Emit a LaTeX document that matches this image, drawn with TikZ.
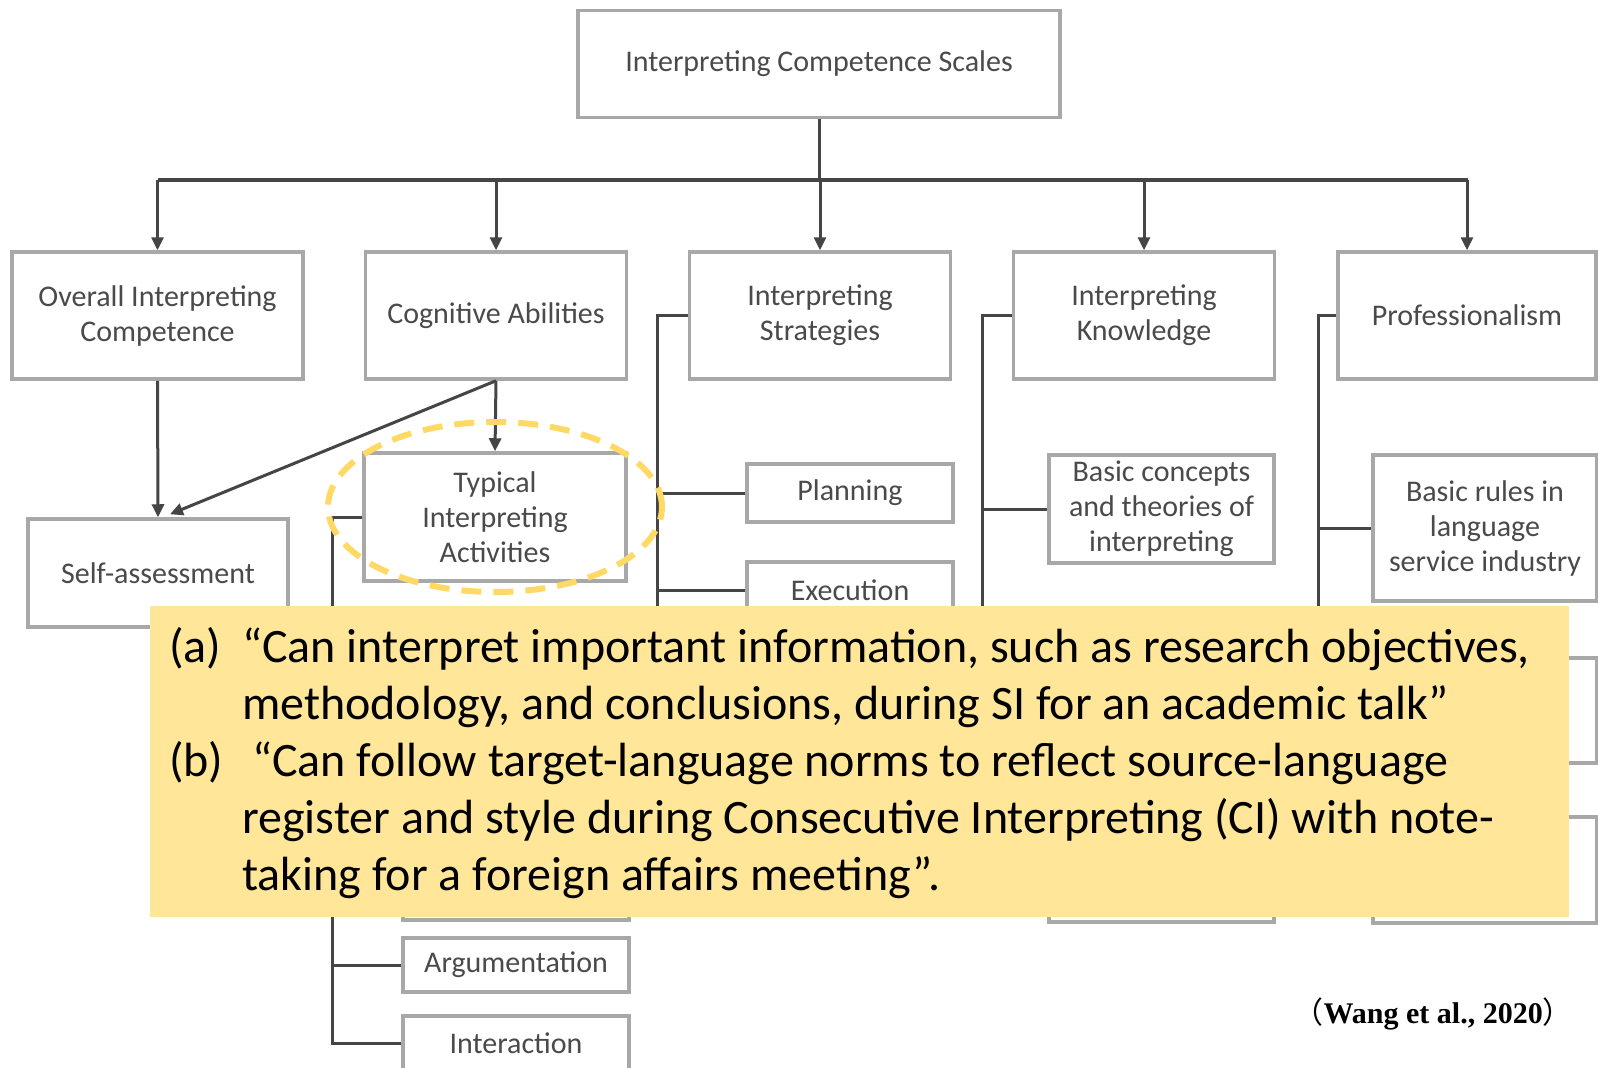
\documentclass[tikz,border=0pt]{standalone}
\usepackage{fontspec}
\setmainfont{Carlito}
\newfontfamily\citefont{Liberation Serif}
\newfontfamily\cjk{Noto Sans CJK SC}
\usetikzlibrary{arrows.meta,calc}
\definecolor{boxgray}{HTML}{A8A8A8}
\definecolor{linegray}{HTML}{454545}
\definecolor{txtgray}{HTML}{4A4A4A}
\definecolor{notefill}{HTML}{FFE699}
\definecolor{ringgold}{HTML}{FFD966}
\begin{document}
\begin{tikzpicture}[x=1pt,y=-1pt,
  box/.style={draw=boxgray, line width=3.5pt, fill=white, inner sep=0pt,
    align=center, text=txtgray, font=\fontsize{30}{35}\selectfont},
  conn/.style={draw=linegray, line width=3pt},
  arr/.style={-{Triangle[length=13pt,width=12pt]}},
  notetext/.style={anchor=base west, inner sep=0pt, font=\fontsize{48}{57}\selectfont}
]
\useasboundingbox (0,0) rectangle (1598,1068);
\fill[white] (0,0) rectangle (1598,1068);

% root and first level
\node[box, minimum width=482pt, minimum height=107pt] (root) at (819,64) {Interpreting Competence Scales};
\node[box, minimum width=291pt, minimum height=127pt] (overall) at (157.5,315.5) {Overall Interpreting\\Competence};
\node[box, minimum width=261pt, minimum height=127pt] (cognitive) at (496,315.5) {Cognitive Abilities};
\node[box, minimum width=261pt, minimum height=127pt] (strategies) at (820,315.5) {Interpreting\\Strategies};
\node[box, minimum width=261pt, minimum height=127pt] (knowledge) at (1144,315.5) {Interpreting\\Knowledge};
\node[box, minimum width=258pt, minimum height=127pt] (prof) at (1467,315.5) {Professionalism};

% second level
\node[box, minimum width=260pt, minimum height=108pt] (self) at (158,573) {Self-assessment};
\node[box, minimum width=262pt, minimum height=128pt] (typical) at (495,517) {Typical\\Interpreting\\Activities};
\node[box, minimum width=226pt, minimum height=54pt] (lthree) at (516,893) {};
\node[box, minimum width=226pt, minimum height=54pt] (argu) at (516,965) {Argumentation};
\node[box, minimum width=226pt, minimum height=54pt] (inter) at (516,1043) {Interaction};
\node[box, minimum width=206pt, minimum height=58pt] (plan) at (850,493) {Planning};
\node[box, minimum width=206pt, minimum height=56pt] (exec) at (850,590) {Execution};
\node[box, minimum width=225pt, minimum height=108pt] (concepts) at (1161.5,509) {Basic concepts\\and theories of\\interpreting};
\node[box, minimum width=225pt, minimum height=105pt] (ktwo) at (1161.5,869.5) {};
\node[box, minimum width=224pt, minimum height=146pt] (rules) at (1485,528) {Basic rules in\\language\\service industry};
\node[box, minimum width=224pt, minimum height=105pt] (ptwo) at (1485,710.5) {};
\node[box, minimum width=224pt, minimum height=106pt] (pthree) at (1485,870) {};

% top-level distribution bar
\coordinate (barL) at (158,180);
\coordinate (barR) at (1468,180);
\draw[conn] (root.south) -- (root.south |- barL);
\draw[conn, line width=4pt] (barL) -- (barR);
\foreach \n in {overall,cognitive,strategies,knowledge,prof}
  \draw[conn,arr] (\n.north |- barL) -- (\n.north);

% links below the first level
\draw[conn,arr] (overall.south) -- (self.north);
\draw[conn,arr] (cognitive.south) -- (typical.north);
\draw[conn,arr] (cognitive.south) -- ([xshift=12pt,yshift=3pt]self.north);

% bracket of the activities column
\coordinate (lc) at (332,517);
\draw[conn] (typical.west) -- (lc) -- (lc |- inter.west) -- (inter.west);
\draw[conn] (lc |- lthree.west) -- (lthree.west);
\draw[conn] (lc |- argu.west) -- (argu.west);

% bracket of the strategies column
\coordinate (sc) at (657,315.5);
\coordinate (send) at (657,660);
\draw[conn] (strategies.west) -- (sc) -- (send);
\draw[conn] (sc |- plan.west) -- (plan.west);
\draw[conn] (sc |- exec.west) -- (exec.west);

% bracket of the knowledge column
\coordinate (kc) at (982,315.5);
\draw[conn] (knowledge.west) -- (kc) -- (kc |- ktwo.west) -- (ktwo.west);
\draw[conn] (kc |- concepts.west) -- (concepts.west);

% bracket of the professionalism column
\coordinate (pc) at (1318,315.5);
\draw[conn] (prof.west) -- (pc) -- (pc |- pthree.west) -- (pthree.west);
\draw[conn] (pc |- rules.west) -- (rules.west);
\draw[conn] (pc |- ptwo.west) -- (ptwo.west);

% highlight ring
\draw[ringgold, line width=6pt, dash pattern=on 20pt off 12pt] (495,507) ellipse [x radius=167pt, y radius=85pt];

% descriptor note
\node[fill=notefill, inner sep=0pt, minimum width=1419pt, minimum height=311pt] (note) at (859.5,761.5) {};
\node[notetext] (la) at (169,662) {(a)};
\node[notetext] (a1) at (242,662) {“Can interpret important information, such as research objectives,};
\node[notetext] (a2) at (242,719) {methodology, and conclusions, during SI for an academic talk”};
\node[notetext] (lb) at (169,776) {(b)};
\node[notetext] (b1) at (252,776) {“Can follow target-language norms to reflect source-language};
\node[notetext] (b2) at (242,833) {register and style during Consecutive Interpreting (CI) with note-};
\node[notetext] (b3) at (242,890) {taking for a foreign affairs meeting”.};

% source
\node[anchor=base east, inner sep=0pt, font=\fontsize{30}{33}\selectfont] (cite) at (1573,1023)
  {{\cjk （}{\citefont\bfseries Wang et al., 2020}{\cjk ）}};
\end{tikzpicture}
\end{document}
